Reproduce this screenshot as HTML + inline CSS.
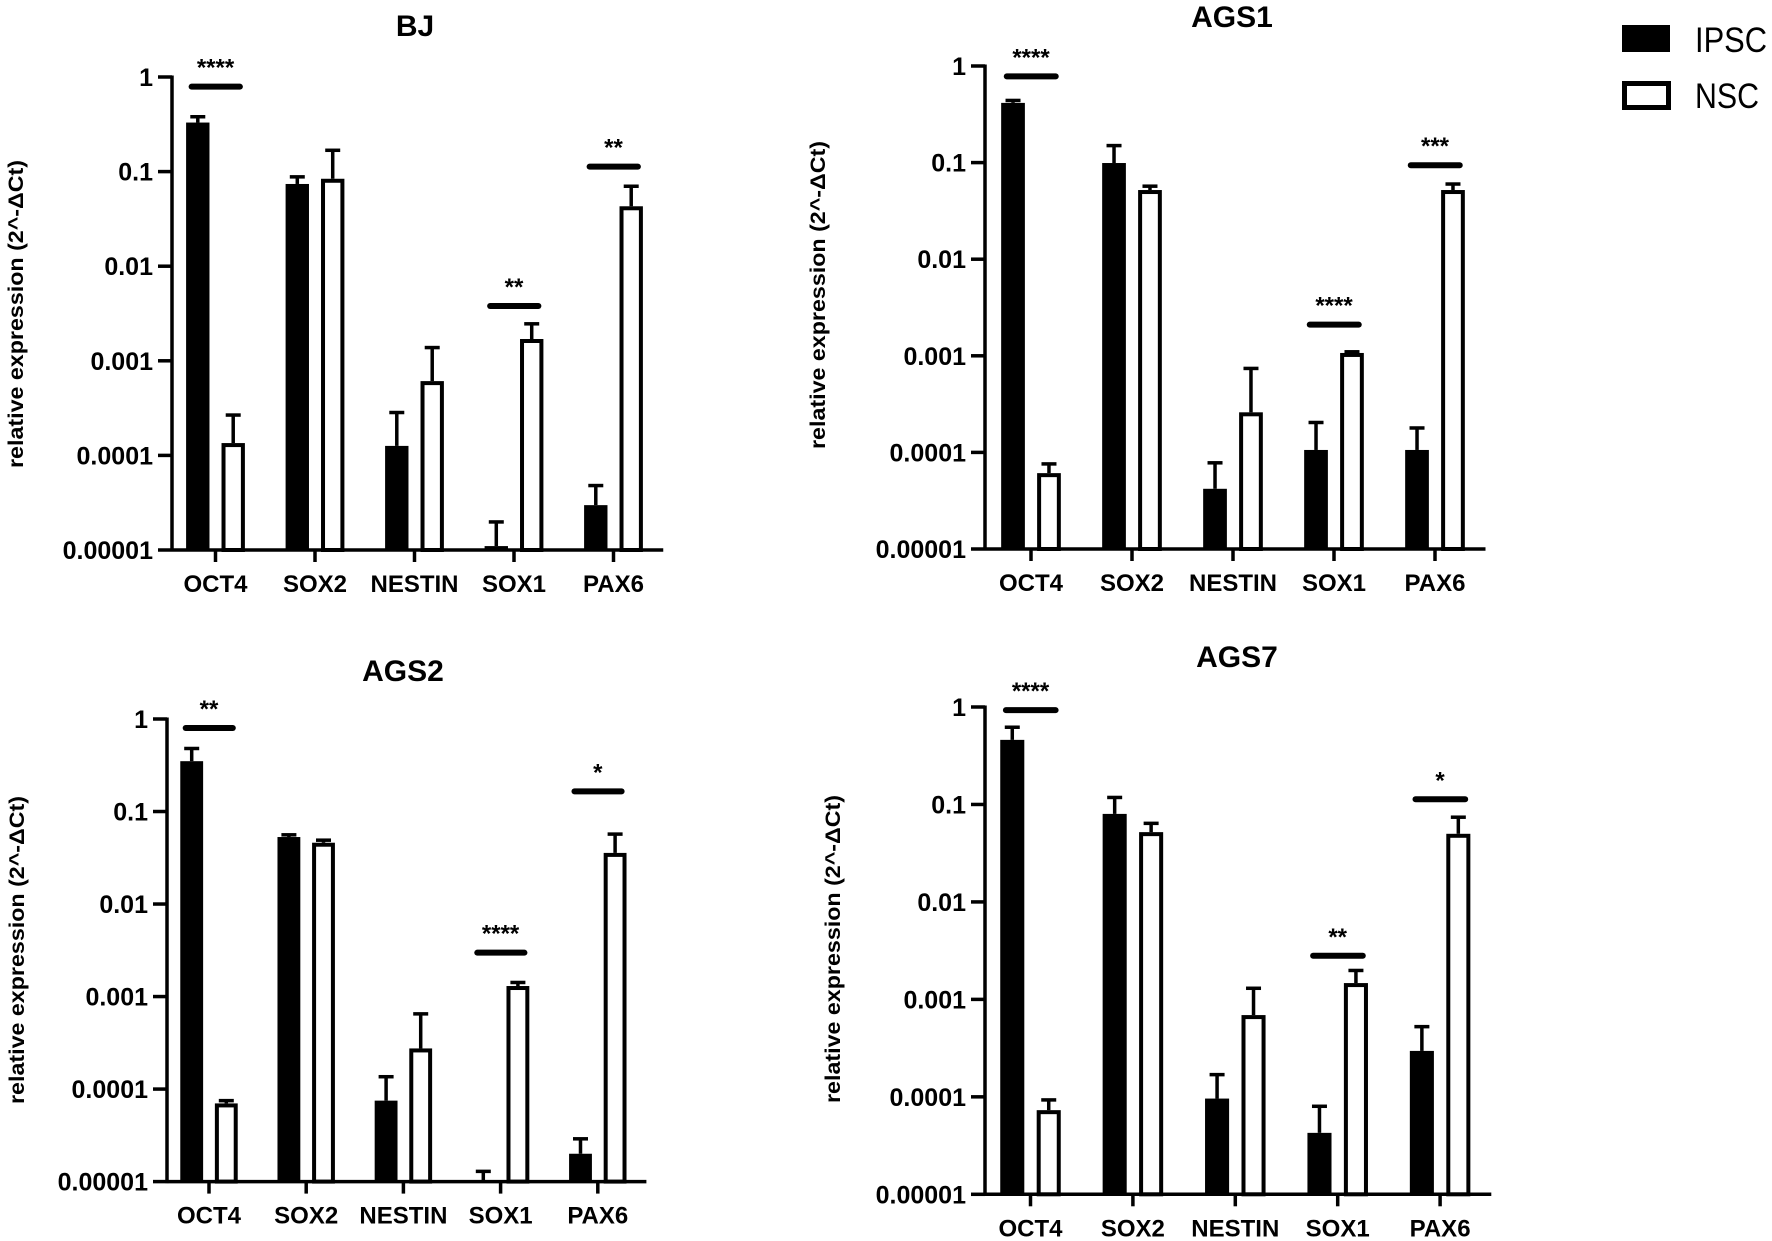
<!DOCTYPE html>
<html><head><meta charset="utf-8">
<style>
html,body{margin:0;padding:0;background:#fff;}
svg{display:block;font-family:"Liberation Sans",Arial,sans-serif;}
</style></head>
<body>
<svg id="chart" width="1772" height="1241" viewBox="0 0 1772 1241">
<g>
<rect x="1622" y="25" width="48" height="27" fill="#000"/>
<text x="1695" y="52" font-size="35" textLength="72" lengthAdjust="spacingAndGlyphs">IPSC</text>
<rect x="1624.5" y="83.5" width="44" height="24" fill="#fff" stroke="#000" stroke-width="5"/>
<text x="1695" y="108" font-size="35" textLength="64" lengthAdjust="spacingAndGlyphs">NSC</text>
</g>
</svg>
<script>
const categories = ["OCT4","SOX2","NESTIN","SOX1","PAX6"];
const tickValues = [1,0.1,0.01,0.001,0.0001,0.00001];
const tickLabels = ["1","0.1","0.01","0.001","0.0001","0.00001"];

const bjIpsc = [0.33,0.074,1.26e-4,1.1e-5,2.98e-5];
const bjIpscErr = [0.38,0.088,2.84e-4,1.98e-5,4.8e-5];
const bjNsc = [1.35e-4,0.084,6.1e-4,1.7e-3,0.043];
const bjNscErr = [2.67e-4,0.168,1.38e-3,2.46e-3,0.070];
const bjSigCats = [0,3,4];
const bjSigLevels = [0.79,3.8e-3,0.113];
const bjSigLabels = ["****","**","**"];

const ags1Ipsc = [0.415,0.099,4.2e-5,1.06e-4,1.06e-4];
const ags1IpscErr = [0.44,0.15,7.8e-5,2.04e-4,1.79e-4];
const ags1Nsc = [6.1e-5,0.052,2.6e-4,1.07e-3,0.052];
const ags1NscErr = [7.6e-5,0.057,7.4e-4,1.1e-3,0.06];
const ags1SigCats = [0,3,4];
const ags1SigLevels = [0.78,2.1e-3,0.094];
const ags1SigLabels = ["****","****","***"];

const ags2Ipsc = [0.35,0.053,7.5e-5,1.0e-5,2.0e-5];
const ags2IpscErr = [0.48,0.056,1.36e-4,1.29e-5,2.9e-5];
const ags2Nsc = [7.0e-5,0.046,2.75e-4,1.3e-3,0.0357];
const ags2NscErr = [7.5e-5,0.049,6.5e-4,1.42e-3,0.057];
const ags2SigCats = [0,3,4];
const ags2SigLevels = [0.8,2.98e-3,0.165];
const ags2SigLabels = ["**","****","*"];

const ags7Ipsc = [0.46,0.080,9.6e-5,4.27e-5,2.96e-4];
const ags7IpscErr = [0.62,0.118,1.69e-4,8.0e-5,5.25e-4];
const ags7Nsc = [7.3e-5,0.052,6.9e-4,1.47e-3,0.050];
const ags7NscErr = [9.3e-5,0.064,1.3e-3,1.98e-3,0.074];
const ags7SigCats = [0,3,4];
const ags7SigLevels = [0.93,2.8e-3,0.113];
const ags7SigLabels = ["****","**","*"];

const NS = "http://www.w3.org/2000/svg";
const svg = document.getElementById("chart");
function mk(tag, attrs, parent){
  const e = document.createElementNS(NS, tag);
  for (const k in attrs) e.setAttribute(k, attrs[k]);
  parent.appendChild(e);
  return e;
}

const panels = [
  {id:"bj", title:"BJ", ax:172, yTop:77, yBot:550, c0:215.5, sp:99.5, tx:415, ty:36, lx:16, ly:314,
   ipsc:bjIpsc, ipscErr:bjIpscErr, nsc:bjNsc, nscErr:bjNscErr, sigCats:bjSigCats, sigLevels:bjSigLevels, sigLabels:bjSigLabels},
  {id:"ags1", title:"AGS1", ax:985, yTop:66, yBot:549, c0:1031, sp:101, tx:1232, ty:27, lx:818, ly:295,
   ipsc:ags1Ipsc, ipscErr:ags1IpscErr, nsc:ags1Nsc, nscErr:ags1NscErr, sigCats:ags1SigCats, sigLevels:ags1SigLevels, sigLabels:ags1SigLabels},
  {id:"ags2", title:"AGS2", ax:167, yTop:719, yBot:1181.6, c0:209, sp:97.2, tx:403, ty:681, lx:17, ly:950,
   ipsc:ags2Ipsc, ipscErr:ags2IpscErr, nsc:ags2Nsc, nscErr:ags2NscErr, sigCats:ags2SigCats, sigLevels:ags2SigLevels, sigLabels:ags2SigLabels},
  {id:"ags7", title:"AGS7", ax:985, yTop:707, yBot:1194.3, c0:1030.5, sp:102.4, tx:1237, ty:667, lx:833, ly:949,
   ipsc:ags7Ipsc, ipscErr:ags7IpscErr, nsc:ags7Nsc, nscErr:ags7NscErr, sigCats:ags7SigCats, sigLevels:ags7SigLevels, sigLabels:ags7SigLabels}
];

panels.forEach(p => {
  const g = mk("g", {}, svg);
  
  
  const dec = (p.yBot - p.yTop) / 5;
  const y = v => p.yBot - dec * (Math.log10(v) + 5);
  const cx = i => p.c0 + i * p.sp;
  const bw = p.sp * 0.235;
  const off = p.sp * 0.178;
  const xEnd = cx(categories.length - 1) + p.sp * 0.5;

  const t = mk("text", {x:p.tx, y:p.ty, "font-size":30, "font-weight":"bold", "text-anchor":"middle"}, g);
  
  
  t.textContent = p.title;

  const yl = mk("text", {x:0, y:0, "font-size":21, "font-weight":"bold", "text-anchor":"middle",
    transform:`translate(${p.lx + 7},${p.ly}) rotate(-90)`, textLength:308, lengthAdjust:"spacingAndGlyphs"}, g);
  
  
  yl.textContent = "relative expression (2^-\u0394Ct)";

  categories.forEach((c, i) => {
    const x1 = cx(i) - off, x2 = cx(i) + off;
    const yb = y(p.ipsc[i]), ye = y(p.ipscErr[i]);
    const eb = mk("line", {x1:x1, x2:x1, y1:yb, y2:ye, stroke:"#000", "stroke-width":3.5}, g);
    
    
    const ec = mk("line", {x1:x1 - 7.5, x2:x1 + 7.5, y1:ye, y2:ye, stroke:"#000", "stroke-width":3.5}, g);
    
    
    const b1 = mk("rect", {x:x1 - bw/2, y:yb, width:bw, height:Math.max(0, p.yBot - yb), fill:"#000"}, g);
    
    

    const yn = y(p.nsc[i]), yne = y(p.nscErr[i]);
    const eb2 = mk("line", {x1:x2, x2:x2, y1:yn, y2:yne, stroke:"#000", "stroke-width":3.5}, g);
    
    
    const ec2 = mk("line", {x1:x2 - 7.5, x2:x2 + 7.5, y1:yne, y2:yne, stroke:"#000", "stroke-width":3.5}, g);
    
    
    const b2 = mk("rect", {x:x2 - bw/2 + 2, y:yn + 2, width:bw - 4, height:Math.max(0, p.yBot - yn - 2), fill:"#fff", stroke:"#000", "stroke-width":4}, g);
    
    
  });

  const ya = mk("line", {x1:p.ax, x2:p.ax, y1:p.yTop - 1.5, y2:p.yBot + 1.5, stroke:"#000", "stroke-width":3.5}, g);
  
  
  const xa = mk("line", {x1:p.ax, x2:xEnd, y1:p.yBot, y2:p.yBot, stroke:"#000", "stroke-width":3.5}, g);
  
  

  tickValues.forEach((v, k) => {
    const yy = y(v);
    const tk = mk("line", {x1:p.ax - 14, x2:p.ax, y1:yy, y2:yy, stroke:"#000", "stroke-width":3.5}, g);
    
    
    const tl = mk("text", {x:p.ax - 19, y:yy + 9, "font-size":25, "font-weight":"bold", "text-anchor":"end"}, g);
    
    
    tl.textContent = tickLabels[k];
  });

  categories.forEach((c, i) => {
    const tk = mk("line", {x1:cx(i), x2:cx(i), y1:p.yBot, y2:p.yBot + 12, stroke:"#000", "stroke-width":3.5}, g);
    
    
    const tl = mk("text", {x:cx(i), y:p.yBot + 42, "font-size":24, "font-weight":"bold", "text-anchor":"middle"}, g);
    
    
    tl.textContent = c;
  });

  p.sigCats.forEach((ci, k) => {
    const yy = y(p.sigLevels[k]);
    const ln = mk("line", {x1:cx(ci) - p.sp*0.24, x2:cx(ci) + p.sp*0.245, y1:yy, y2:yy, stroke:"#000", "stroke-width":6, "stroke-linecap":"round"}, g);
    
    
    const st = mk("text", {x:cx(ci), y:yy - 11, "font-size":24, "font-weight":"bold", "text-anchor":"middle"}, g);
    
    
    st.textContent = p.sigLabels[k];
  });
});
</script>
</body></html>
